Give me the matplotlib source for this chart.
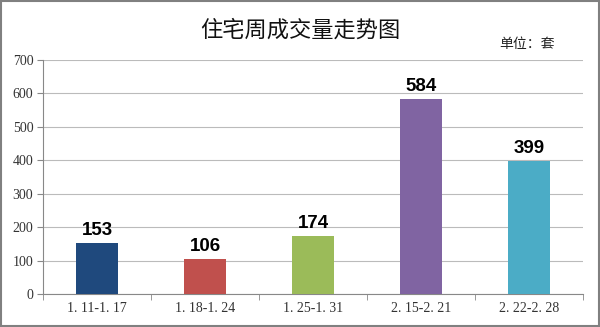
import matplotlib
matplotlib.use("Agg")
import matplotlib.pyplot as plt
from matplotlib.patches import Rectangle

categories = ["1. 11-1. 17", "1. 18-1. 24", "1. 25-1. 31", "2. 15-2. 21", "2. 22-2. 28"]
values = [153, 106, 174, 584, 399]
colors = ["#1F497D", "#C0504D", "#9BBB59", "#8064A2", "#4BACC6"]
yticks = [0, 100, 200, 300, 400, 500, 600, 700]
title = "住宅周成交量走势图"
unit = "单位：套"

plt.rcParams['font.family'] = ['Noto Sans CJK SC', 'DejaVu Sans']

W, H = 600, 327
fig = plt.figure(figsize=(W/100, H/100), dpi=100)
fig.patch.set_facecolor("white")
ax = fig.add_axes([43/W, 1-294/H, (583-43)/W, (294-60)/H])

x = list(range(len(categories)))
ax.bar(x, values, width=0.39, color=colors, zorder=3)
for xi, v in zip(x, values):
    ax.text(xi, v + 12, str(v), ha="center", va="bottom", fontsize=13.5,
            fontweight="bold", family=["Liberation Sans"], zorder=4)

ax.set_xlim(-0.5, len(categories) - 0.5)
ax.set_ylim(0, 700)
ax.set_yticks(yticks)
ax.set_yticklabels([str(t) for t in yticks], family=["Liberation Serif"], fontsize=10, color="#333333")
ax.set_xticks(x)
ax.set_xticklabels(categories, family=["Liberation Serif"], fontsize=10, color="#333333")
ax.set_xticks([i + 0.5 for i in range(-1, len(categories))], minor=True)
ax.tick_params(axis="x", which="major", length=0, pad=6)
ax.tick_params(axis="x", which="minor", length=4, color="#888888", direction="out")
ax.tick_params(axis="y", length=4, color="#888888", direction="out", pad=3)
ax.grid(axis="y", color="#BBBBBB", linewidth=0.8, zorder=0)
for s in ["top", "right"]:
    ax.spines[s].set_visible(False)
ax.spines["left"].set_color("#888888")
ax.spines["bottom"].set_color("#888888")

fig.text(300/W, 1-30/H, title, ha="center", va="center", fontsize=16, color="#111111")
fig.text(527/W, 1-44/H, unit, ha="center", va="center", fontsize=10, color="#222222")

fig.patches.append(Rectangle((0.002, 0.003), 0.996, 0.994, transform=fig.transFigure,
                             fill=False, edgecolor="#808080", linewidth=1.5))

fig.savefig("out.png", dpi=100)
